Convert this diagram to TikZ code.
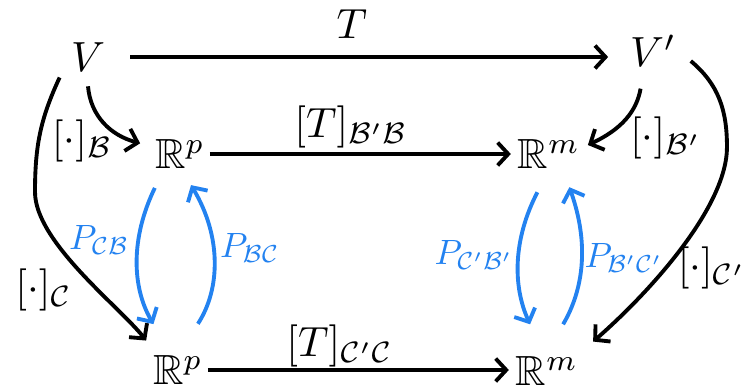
\documentclass[tikz,border=0pt]{standalone}
\usepackage{amssymb}
\usetikzlibrary{arrows.meta}
\definecolor{penblue}{RGB}{35,130,240}
\tikzset{
  map/.style={line width=1.1pt,-{Straight Barb[length=3pt,width=6.5pt]}},
  bmap/.style={map,draw=penblue},
}

\begin{document}
\begin{tikzpicture}
  \useasboundingbox (0,0) rectangle (7.49,3.87);

  \coordinate (Va) at (0.88, 3.30);
  \coordinate (Vb) at (6.53, 3.36);
  \coordinate (Ra) at (1.80, 2.33);
  \coordinate (Rb) at (5.49, 2.33);
  \coordinate (Rc) at (1.78, 0.17);
  \coordinate (Rd) at (5.47, 0.16);

  \node[scale=1.2] (V) at (Va) {$V$};
  \node[scale=1.2] (Vp) at (Vb) {$V'$};
  \node[scale=1.2] (Rp1) at (Ra) {$\mathbb{R}^p$};
  \node[scale=1.2] (Rm1) at (Rb) {$\mathbb{R}^m$};
  \node[scale=1.2] (Rp2) at (Rc) {$\mathbb{R}^p$};
  \node[scale=1.2] (Rm2) at (Rd) {$\mathbb{R}^m$};

  \draw[map, shorten <=3pt, shorten >=2pt] (V.east) -- (V.east -| Vp.west);
  \draw[map, shorten <=-0.1cm, shorten >=-0.08cm] (Rp1.east) -- (Rp1.east -| Rm1.west);
  \draw[map, shorten <=-0.1cm, shorten >=-0.08cm] (Rp2.east) -- (Rp2.east -| Rm2.west);
  \draw[map] (V.south) to[out=-85,in=165] (Rp1.165);
  \draw[map, shorten <=2pt, shorten >=-0.08cm] (Vp.250) to[out=-100,in=25] (Rm1.15);
  \draw[map] ([xshift=1pt,yshift=2.5pt]V.south west) to[out=-115,in=90] (0.35,1.95)
    .. controls (0.35,1.45) and (1.20,0.80) .. ([xshift=0.08cm]Rp2.north west);
  \draw[map] ([yshift=-0.1cm]Vp.east) to[out=-40,in=90] (7.27,2.40)
    .. controls (7.27,1.80) and (6.50,0.95) .. (Rm2.north east);

  \draw[bmap, shorten <=0.05cm, shorten >=0.19cm] ([xshift=-0.23cm]Rp1.south) to[bend right=28] ([xshift=-0.15cm]Rp2.north);
  \draw[bmap, shorten <=0.2cm, shorten >=0.02cm] ([xshift=0.09cm]Rp2.north) to[bend right=32] ([xshift=0.1cm]Rp1.south);
  \draw[bmap, shorten <=0.1cm, shorten >=0.19cm] ([xshift=-0.07cm]Rm1.south) to[bend right=26] ([xshift=-0.09cm]Rm2.north);
  \draw[bmap, shorten <=0.2cm, shorten >=0.04cm] ([xshift=0.06cm]Rm2.north) to[bend right=25] ([xshift=0.19cm]Rm1.south);

  \node[scale=1.2] (t) at (3.52, 3.63) {$T$};
  \node[scale=1.2] (tbb) at (3.51, 2.60) {$[T]_{\mathcal{B}'\mathcal{B}}$};
  \node[scale=1.2] (tcc) at (3.40, 0.41) {$[T]_{\mathcal{C}'\mathcal{C}}$};
  \node[scale=1.2] (cb) at (0.82, 2.46) {$[\cdot]_{\mathcal{B}}$};
  \node[scale=1.2] (cbp) at (6.66, 2.49) {$[\cdot]_{\mathcal{B}'}$};
  \node[scale=1.2] (cc) at (0.44, 0.97) {$[\cdot]_{\mathcal{C}}$};
  \node[scale=1.2] (ccp) at (7.12, 1.19) {$[\cdot]_{\mathcal{C}'}$};

  \node[scale=1.0][text=penblue] (pcb) at (0.99, 1.47) {$P_{\mathcal{C}\mathcal{B}}$};
  \node[scale=1.0][text=penblue] (pbc) at (2.50, 1.39) {$P_{\mathcal{B}\mathcal{C}}$};
  \node[scale=1.0][text=penblue] (pcbp) at (4.74, 1.32) {$P_{\mathcal{C}'\mathcal{B}'}$};
  \node[scale=1.0][text=penblue] (pbcp) at (6.24, 1.29) {$P_{\mathcal{B}'\mathcal{C}'}$};
\end{tikzpicture}
\end{document}
